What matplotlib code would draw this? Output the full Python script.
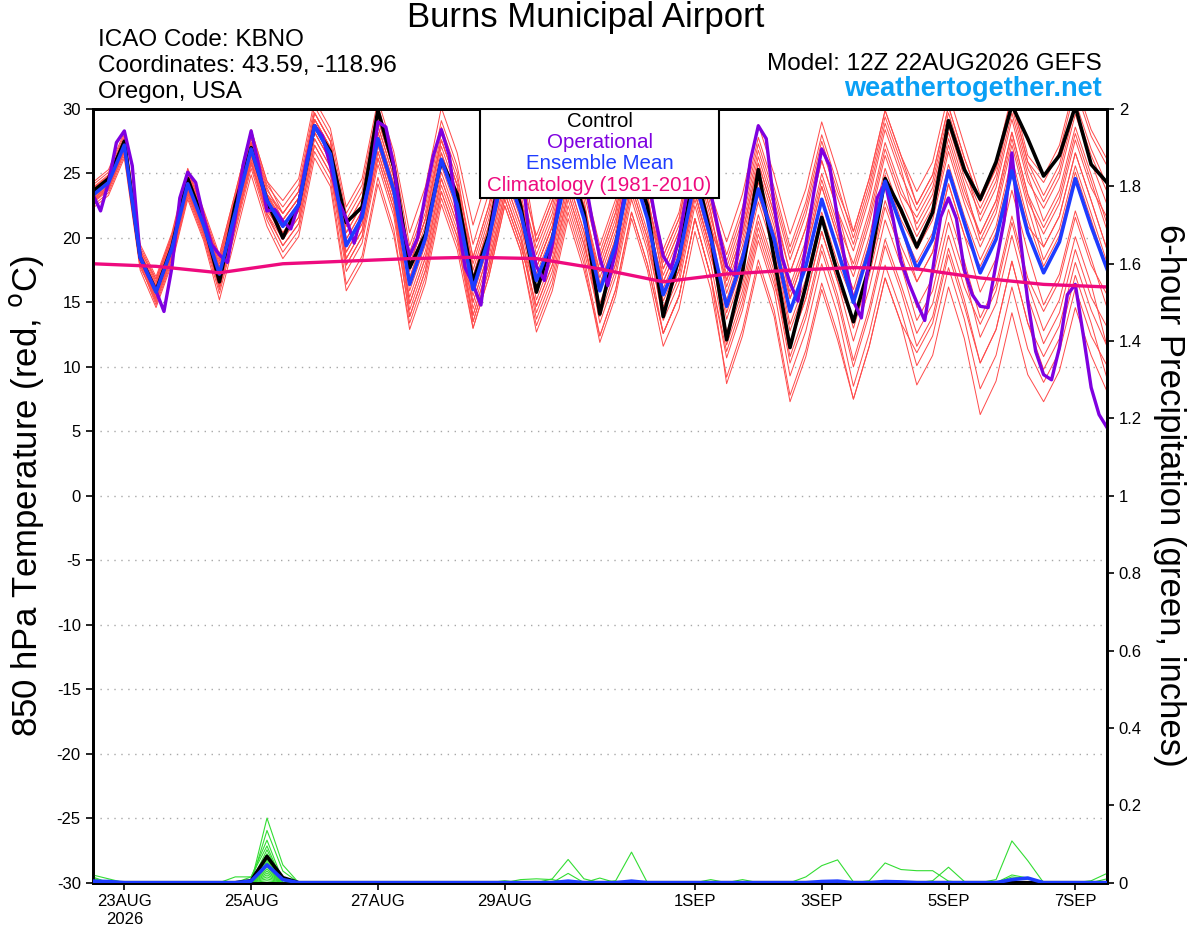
import matplotlib
matplotlib.use('Agg')
import matplotlib.pyplot as plt
from matplotlib.patches import Rectangle
import numpy as np

plt.rcParams['font.family'] = ['Liberation Sans', 'DejaVu Sans']
plt.rcParams['axes.unicode_minus'] = False

# 6-hourly steps from 22AUG2026 12Z (index 0) to 7SEP 12Z (index 64)
tick_steps = [2, 10, 18, 26, 38, 46, 54, 62]
tick_labels = ['23AUG\n2026', '25AUG', '27AUG', '29AUG', '1SEP', '3SEP', '5SEP', '7SEP']

# 850 hPa temperature, deg C
control = [23.6, 24.6, 27.5, 18.5, 15.9, 19.3, 24.6, 21.3, 16.6, 22.6, 27.0, 22.9, 20.0, 22.6, 28.7, 26.7,
           21.2, 22.4, 29.9, 25.5, 17.7, 20.3, 26.0, 23.4, 16.6, 20.3, 27.0, 22.5, 15.8, 19.9, 26.0, 22.0,
           14.1, 19.4, 26.0, 22.5, 13.9, 18.5, 25.5, 20.2, 12.1, 17.3, 25.3, 18.4, 11.5, 16.3, 21.6, 17.3,
           13.5, 17.8, 24.6, 22.2, 19.3, 22.0, 29.1, 25.3, 23.0, 25.9, 30.3, 27.7, 24.8, 26.4, 30.2, 25.7,
           24.3]

ens_mean = [23.3, 24.3, 27.2, 18.5, 15.8, 19.2, 24.2, 21.0, 17.2, 22.0, 26.9, 22.9, 20.9, 22.6, 28.7, 26.5,
            19.4, 21.6, 27.7, 23.7, 16.4, 20.0, 26.1, 22.6, 16.0, 20.0, 25.5, 22.0, 16.7, 19.9, 25.5, 21.5,
            15.9, 19.5, 25.5, 21.5, 15.6, 18.5, 24.5, 20.0, 14.7, 18.4, 23.8, 19.9, 14.3, 17.8, 23.0, 19.1,
            15.0, 19.1, 24.4, 20.9, 17.6, 19.9, 25.2, 21.2, 17.3, 19.9, 25.2, 20.4, 17.3, 19.7, 24.6, 20.9,
            17.6]

# operational run, 3-hourly
operational = [23.4, 22.1, 24.3, 27.4, 28.3, 25.6, 18.5, 17.1, 15.9, 14.3, 17.7, 23.1, 25.1, 24.3, 21.6, 19.5,
               18.7, 18.1, 21.6, 25.7, 28.3, 25.5, 22.1, 22.2, 21.3, 20.7, 22.6, 26.0, 28.7, 27.9, 25.6, 22.9,
               21.5, 19.6, 22.0, 24.4, 29.0, 28.6, 25.6, 21.2, 18.6, 20.0, 23.4, 26.4, 28.4, 26.4, 21.6, 17.7,
               16.4, 14.8, 19.8, 23.3, 26.0, 27.5, 26.5, 20.5, 17.8, 16.7, 19.5, 23.5, 26.0, 26.5, 25.0, 21.5,
               18.5, 16.3, 19.0, 23.0, 26.0, 26.5, 25.0, 21.5, 18.6, 17.6, 20.0, 23.5, 26.0, 25.5, 23.5, 20.5,
               17.8, 17.1, 21.5, 26.0, 28.7, 27.7, 22.5, 18.5, 16.5, 15.1, 19.5, 23.5, 26.9, 25.6, 21.5, 18.0,
               15.1, 13.8, 18.5, 23.1, 24.3, 21.5, 18.2, 16.5, 15.0, 13.6, 17.5, 21.6, 23.1, 21.5, 17.5, 15.6,
               14.7, 14.6, 18.0, 21.3, 26.6, 20.3, 15.1, 11.2, 9.4, 9.0, 11.5, 15.6, 16.4, 12.5, 8.4, 6.3,
               5.3]

# climatology, daily at 12Z
climatology = [18.0, 17.8, 17.3, 18.0, 18.2, 18.4, 18.5, 18.4, 17.6, 16.6, 17.2, 17.5, 17.7, 17.6, 16.9, 16.4, 16.2]

members = [
    [23.8, 24.8, 27.7, 19.0, 16.8, 20.2, 25.2, 22.0, 18.4, 23.2, 28.1, 24.1, 22.4, 24.1, 30.2, 28.0,
     21.9, 24.1, 30.2, 26.2, 19.4, 23.0, 29.1, 25.6, 19.5, 23.5, 29.0, 25.5, 19.7, 22.9, 28.5, 24.5,
     18.4, 22.0, 28.0, 24.0, 18.6, 21.5, 27.5, 23.0, 18.7, 22.4, 27.8, 23.9, 19.3, 22.8, 28.0, 24.1,
     20.0, 24.1, 29.4, 25.9, 22.6, 24.9, 30.2, 26.2, 22.8, 25.4, 30.7, 25.9, 23.3, 25.7, 30.6, 26.9, 24.1],
    [22.8, 23.8, 26.7, 18.0, 14.8, 18.2, 23.2, 20.0, 15.7, 20.5, 25.4, 21.4, 18.9, 20.6, 26.7, 24.5,
     16.4, 18.6, 24.7, 20.7, 12.9, 16.5, 22.6, 19.1, 13.0, 17.0, 22.5, 19.0, 13.2, 16.4, 22.0, 18.0,
     11.9, 15.5, 21.5, 17.5, 11.6, 14.5, 20.5, 16.0, 9.2, 12.9, 18.3, 14.4, 7.8, 11.3, 16.5, 12.6,
     7.5, 11.6, 16.9, 13.4, 8.6, 10.9, 16.2, 12.2, 6.3, 8.9, 14.2, 9.4, 7.3, 9.7, 14.6, 10.9, 8.1],
    [23.6, 24.6, 27.5, 18.8, 16.3, 19.7, 24.7, 21.5, 18.0, 22.8, 27.7, 23.7, 21.9, 23.6, 29.7, 27.5,
     20.9, 23.1, 29.2, 25.2, 18.4, 22.0, 28.1, 24.6, 18.5, 22.5, 28.0, 24.5, 18.7, 21.9, 27.5, 23.5,
     18.4, 22.0, 28.0, 24.0, 19.1, 22.0, 28.0, 23.5, 19.7, 23.4, 28.8, 24.9, 20.3, 23.8, 29.0, 25.1,
     20.5, 24.6, 29.9, 26.4, 22.6, 24.9, 30.2, 26.2, 22.8, 25.4, 30.7, 25.9, 24.3, 26.7, 31.6, 27.9, 25.6],
    [23.0, 24.0, 26.9, 18.2, 15.3, 18.7, 23.7, 20.5, 16.2, 21.0, 25.9, 21.9, 19.4, 21.1, 27.2, 25.0,
     17.4, 19.6, 25.7, 21.7, 13.9, 17.5, 23.6, 20.1, 13.0, 17.0, 22.5, 19.0, 12.7, 15.9, 21.5, 17.5,
     12.4, 16.0, 22.0, 18.0, 12.6, 15.5, 21.5, 17.0, 10.7, 14.4, 19.8, 15.9, 9.3, 12.8, 18.0, 14.1,
     8.5, 12.6, 17.9, 14.4, 10.1, 12.4, 17.7, 13.7, 8.3, 10.9, 16.2, 11.4, 8.8, 11.2, 16.1, 12.4, 10.1],
    [24.1, 25.1, 28.0, 19.3, 16.8, 20.2, 25.2, 22.0, 17.7, 22.5, 27.4, 23.4, 21.4, 23.1, 29.2, 27.0,
     20.4, 22.6, 28.7, 24.7, 17.9, 21.5, 27.6, 24.1, 17.0, 21.0, 26.5, 23.0, 17.2, 20.4, 26.0, 22.0,
     16.9, 20.5, 26.5, 22.5, 17.1, 20.0, 26.0, 21.5, 17.2, 20.9, 26.3, 22.4, 17.3, 20.8, 26.0, 22.1,
     19.0, 23.1, 28.4, 24.9, 22.1, 24.4, 29.7, 25.7, 21.3, 23.9, 29.2, 24.4, 22.3, 24.7, 29.6, 25.9, 22.6],
    [22.5, 23.5, 26.4, 17.7, 15.3, 18.7, 23.7, 20.5, 16.7, 21.5, 26.4, 22.4, 19.9, 21.6, 27.7, 25.5,
     17.9, 20.1, 26.2, 22.2, 15.4, 19.0, 25.1, 21.6, 15.5, 19.5, 25.0, 21.5, 15.7, 18.9, 24.5, 20.5,
     14.4, 18.0, 24.0, 20.0, 13.6, 16.5, 22.5, 18.0, 11.7, 15.4, 20.8, 16.9, 10.3, 13.8, 19.0, 15.1,
     10.0, 14.1, 19.4, 15.9, 11.6, 13.9, 19.2, 15.2, 10.3, 12.9, 18.2, 13.4, 10.8, 13.2, 18.1, 14.4, 11.6],
    [23.5, 24.5, 27.4, 18.7, 16.1, 19.5, 24.5, 21.3, 18.7, 23.5, 28.4, 24.4, 21.9, 23.6, 29.7, 27.5,
     19.9, 22.1, 28.2, 24.2, 17.4, 21.0, 27.1, 23.6, 18.0, 22.0, 27.5, 24.0, 19.2, 22.4, 28.0, 24.0,
     18.9, 22.5, 28.5, 24.5, 17.6, 20.5, 26.5, 22.0, 16.2, 19.9, 25.3, 21.4, 16.3, 19.8, 25.0, 21.1,
     18.0, 22.1, 27.4, 23.9, 21.1, 23.4, 28.7, 24.7, 21.8, 24.4, 29.7, 24.9, 21.3, 23.7, 28.6, 24.9, 21.1],
    [23.1, 24.1, 27.0, 18.3, 15.5, 18.9, 23.9, 20.7, 16.4, 21.2, 26.1, 22.1, 20.4, 22.1, 28.2, 26.0,
     18.4, 20.6, 26.7, 22.7, 14.4, 18.0, 24.1, 20.6, 13.5, 17.5, 23.0, 19.5, 14.7, 17.9, 23.5, 19.5,
     14.9, 18.5, 24.5, 20.5, 14.6, 17.5, 23.5, 19.0, 12.7, 16.4, 21.8, 17.9, 11.8, 15.3, 20.5, 16.6,
     12.0, 16.1, 21.4, 17.9, 13.6, 15.9, 21.2, 17.2, 12.3, 14.9, 20.2, 15.4, 11.8, 14.2, 19.1, 15.4, 13.1],
    [23.9, 24.9, 27.8, 19.1, 16.6, 20.0, 25.0, 21.8, 18.2, 23.0, 27.9, 23.9, 21.4, 23.1, 29.2, 27.0,
     20.9, 23.1, 29.2, 25.2, 18.9, 22.5, 28.6, 25.1, 17.5, 21.5, 27.0, 23.5, 17.7, 20.9, 26.5, 22.5,
     16.4, 20.0, 26.0, 22.0, 16.1, 19.0, 25.0, 20.5, 17.7, 21.4, 26.8, 22.9, 18.3, 21.8, 27.0, 23.1,
     19.5, 23.6, 28.9, 25.4, 20.6, 22.9, 28.2, 24.2, 19.8, 22.4, 27.7, 22.9, 20.3, 22.7, 27.6, 23.9, 21.6],
    [22.7, 23.7, 26.6, 17.9, 15.0, 18.4, 23.4, 20.2, 16.0, 20.8, 25.7, 21.7, 19.4, 21.1, 27.2, 25.0,
     18.9, 21.1, 27.2, 23.2, 16.9, 20.5, 26.6, 23.1, 17.0, 21.0, 26.5, 23.0, 18.2, 21.4, 27.0, 23.0,
     16.4, 20.0, 26.0, 22.0, 15.1, 18.0, 24.0, 19.5, 13.7, 17.4, 22.8, 18.9, 12.8, 16.3, 21.5, 17.6,
     13.0, 17.1, 22.4, 18.9, 14.6, 16.9, 22.2, 18.2, 13.8, 16.4, 21.7, 16.9, 14.3, 16.7, 21.6, 17.9, 15.6],
    [23.7, 24.7, 27.6, 18.9, 16.0, 19.4, 24.4, 21.2, 17.2, 22.0, 26.9, 22.9, 20.4, 22.1, 28.2, 26.0,
     19.4, 21.6, 27.7, 23.7, 15.9, 19.5, 25.6, 22.1, 14.5, 18.5, 24.0, 20.5, 14.2, 17.4, 23.0, 19.0,
     13.9, 17.5, 23.5, 19.5, 14.1, 17.0, 23.0, 18.5, 14.7, 18.4, 23.8, 19.9, 15.3, 18.8, 24.0, 20.1,
     17.0, 21.1, 26.4, 22.9, 20.1, 22.4, 27.7, 23.7, 20.3, 22.9, 28.2, 23.4, 19.3, 21.7, 26.6, 22.9, 19.1],
    [22.9, 23.9, 26.8, 18.1, 15.6, 19.0, 24.0, 20.8, 17.5, 22.3, 27.2, 23.2, 21.4, 23.1, 29.2, 27.0,
     20.4, 22.6, 28.7, 24.7, 16.4, 20.0, 26.1, 22.6, 15.0, 19.0, 24.5, 21.0, 15.2, 18.4, 24.0, 20.0,
     13.4, 17.0, 23.0, 19.0, 12.6, 15.5, 21.5, 17.0, 11.2, 14.9, 20.3, 16.4, 11.8, 15.3, 20.5, 16.6,
     13.5, 17.6, 22.9, 19.4, 16.6, 18.9, 24.2, 20.2, 15.8, 18.4, 23.7, 18.9, 14.8, 17.2, 22.1, 18.4, 14.6],
    [24.3, 25.3, 28.2, 19.5, 17.0, 20.4, 25.4, 22.2, 18.7, 23.5, 28.4, 24.4, 22.9, 24.6, 30.7, 28.5,
     22.4, 24.6, 30.7, 26.7, 20.4, 24.0, 30.1, 26.6, 21.0, 25.0, 30.5, 27.0, 19.7, 22.9, 28.5, 24.5,
     19.4, 23.0, 29.0, 25.0, 18.6, 21.5, 27.5, 23.0, 16.7, 20.4, 25.8, 21.9, 15.3, 18.8, 24.0, 20.1,
     15.5, 19.6, 24.9, 21.4, 19.1, 21.4, 26.7, 22.7, 19.3, 21.9, 27.2, 22.4, 18.3, 20.7, 25.6, 21.9, 18.1],
    [22.3, 23.3, 26.2, 17.5, 14.6, 18.0, 23.0, 19.8, 15.2, 20.0, 24.9, 20.9, 18.4, 20.1, 26.2, 24.0,
     15.9, 18.1, 24.2, 20.2, 13.4, 17.0, 23.1, 19.6, 14.0, 18.0, 23.5, 20.0, 13.7, 16.9, 22.5, 18.5,
     12.4, 16.0, 22.0, 18.0, 12.6, 15.5, 21.5, 17.0, 8.7, 12.4, 17.8, 13.9, 7.3, 10.8, 16.0, 12.1,
     7.5, 11.6, 16.9, 13.4, 11.1, 13.4, 18.7, 14.7, 10.3, 12.9, 18.2, 13.4, 9.8, 12.2, 17.1, 13.4, 9.1],
    [23.3, 24.3, 27.2, 18.5, 16.3, 19.7, 24.7, 21.5, 17.7, 22.5, 27.4, 23.4, 21.9, 23.6, 29.7, 27.5,
     21.4, 23.6, 29.7, 25.7, 17.9, 21.5, 27.6, 24.1, 16.5, 20.5, 26.0, 22.5, 17.7, 20.9, 26.5, 22.5,
     17.4, 21.0, 27.0, 23.0, 18.1, 21.0, 27.0, 22.5, 18.2, 21.9, 27.3, 23.4, 18.8, 22.3, 27.5, 23.6,
     20.5, 24.6, 29.9, 26.4, 23.6, 25.9, 31.2, 27.2, 23.3, 25.9, 31.2, 26.4, 24.8, 27.2, 32.1, 28.4, 26.1],
    [23.3, 24.3, 27.2, 18.5, 15.3, 18.7, 23.7, 20.5, 16.7, 21.5, 26.4, 22.4, 20.4, 22.1, 28.2, 26.0,
     18.4, 20.6, 26.7, 22.7, 14.9, 18.5, 24.6, 21.1, 14.0, 18.0, 23.5, 20.0, 15.7, 18.9, 24.5, 20.5,
     15.9, 19.5, 25.5, 21.5, 16.6, 19.5, 25.5, 21.0, 14.2, 17.9, 23.3, 19.4, 13.3, 16.8, 22.0, 18.1,
     15.0, 19.1, 24.4, 20.9, 18.1, 20.4, 25.7, 21.7, 18.3, 20.9, 26.2, 21.4, 17.8, 20.2, 25.1, 21.4, 17.6],
    [23.8, 24.8, 27.7, 19.0, 15.8, 19.2, 24.2, 21.0, 16.7, 21.5, 26.4, 22.4, 21.4, 23.1, 29.2, 27.0,
     19.9, 22.1, 28.2, 24.2, 17.9, 21.5, 27.6, 24.1, 18.5, 22.5, 28.0, 24.5, 20.2, 23.4, 29.0, 25.0,
     17.9, 21.5, 27.5, 23.5, 16.6, 19.5, 25.5, 21.0, 16.7, 20.4, 25.8, 21.9, 17.3, 20.8, 26.0, 22.1,
     17.5, 21.6, 26.9, 23.4, 21.6, 23.9, 29.2, 25.2, 22.3, 24.9, 30.2, 25.4, 22.8, 25.2, 30.1, 26.4, 23.6],
    [22.8, 23.8, 26.7, 18.0, 15.8, 19.2, 24.2, 21.0, 17.7, 22.5, 27.4, 23.4, 20.9, 22.6, 28.7, 26.5,
     18.9, 21.1, 27.2, 23.2, 14.9, 18.5, 24.6, 21.1, 13.5, 17.5, 23.0, 19.5, 14.7, 17.9, 23.5, 19.5,
     14.4, 18.0, 24.0, 20.0, 14.6, 17.5, 23.5, 19.0, 12.2, 15.9, 21.3, 17.4, 10.8, 14.3, 19.5, 15.6,
     10.5, 14.6, 19.9, 16.4, 12.6, 14.9, 20.2, 16.2, 13.3, 15.9, 21.2, 16.4, 12.8, 15.2, 20.1, 16.4, 11.6],
    [23.6, 24.6, 27.5, 18.8, 16.5, 19.9, 24.9, 21.7, 17.4, 22.2, 27.1, 23.1, 20.9, 22.6, 28.7, 26.5,
     17.9, 20.1, 26.2, 22.2, 13.9, 17.5, 23.6, 20.1, 15.0, 19.0, 24.5, 21.0, 16.7, 19.9, 25.5, 21.5,
     17.4, 21.0, 27.0, 23.0, 17.6, 20.5, 26.5, 22.0, 15.7, 19.4, 24.8, 20.9, 14.3, 17.8, 23.0, 19.1,
     16.0, 20.1, 25.4, 21.9, 19.6, 21.9, 27.2, 23.2, 20.3, 22.9, 28.2, 23.4, 20.8, 23.2, 28.1, 24.4, 20.6],
    [23.0, 24.0, 26.9, 18.2, 15.1, 18.5, 23.5, 20.3, 16.2, 21.0, 25.9, 21.9, 19.9, 21.6, 27.7, 25.5,
     19.4, 21.6, 27.7, 23.7, 16.9, 20.5, 26.6, 23.1, 16.0, 20.0, 25.5, 22.0, 17.7, 20.9, 26.5, 22.5,
     15.9, 19.5, 25.5, 21.5, 14.6, 17.5, 23.5, 19.0, 15.2, 18.9, 24.3, 20.4, 15.8, 19.3, 24.5, 20.6,
     15.0, 19.1, 24.4, 20.9, 16.6, 18.9, 24.2, 20.2, 17.8, 20.4, 25.7, 20.9, 19.3, 21.7, 26.6, 22.9, 19.1],
]

# 6-hour precipitation (inches), only non-zero steps listed
pcp_members = [
    {0: 0.02, 1: 0.01, 11: 0.167, 12: 0.046},
    {11: 0.135, 12: 0.03},
    {0: 0.015, 10: 0.015, 11: 0.11, 12: 0.005},
    {9: 0.015, 10: 0.015, 11: 0.095},
    {11: 0.085, 29: 0.01, 30: 0.06, 31: 0.01},
    {11: 0.075, 33: 0.005, 34: 0.079},
    {0: 0.012, 11: 0.07, 30: 0.024},
    {11: 0.065, 45: 0.015, 46: 0.044, 47: 0.059, 48: 0.002},
    {11: 0.06, 49: 0.005, 50: 0.051, 51: 0.034, 52: 0.031, 53: 0.031, 54: 0.004},
    {11: 0.055, 57: 0.008, 58: 0.108, 59: 0.057},
    {11: 0.05, 53: 0.005, 54: 0.04, 55: 0.003},
    {11: 0.045, 63: 0.005, 64: 0.024},
    {11: 0.04, 27: 0.008, 28: 0.01, 29: 0.008},
    {11: 0.035, 32: 0.012, 39: 0.008},
    {11: 0.03, 41: 0.008, 58: 0.02, 59: 0.012},
    {11: 0.025, 26: 0.005},
    {11: 0.02, 58: 0.015, 59: 0.01},
    {0: 0.01, 11: 0.015},
    {1: 0.006, 11: 0.01},
    {11: 0.005, 64: 0.01},
]
pcp_control = {10: 0.005, 11: 0.068, 12: 0.013}
pcp_mean = {0: 0.004, 1: 0.003, 10: 0.004, 11: 0.046, 12: 0.008, 30: 0.004, 34: 0.004,
            46: 0.003, 47: 0.004, 50: 0.003, 51: 0.002, 58: 0.008, 59: 0.012}

n = len(control)
t = np.arange(n)
t_op = np.arange(len(operational)) / 2.0
t_clim = np.arange(len(climatology)) * 4


def pcp_series(d):
    s = np.zeros(n)
    for k, v in d.items():
        s[k] = v
    return s


fig = plt.figure(figsize=(12, 9.27), dpi=100)
ax = fig.add_axes([0.0772, 0.0478, 0.8453, 0.8346])
ax2 = ax.twinx()

# temperature
for m in members:
    ax.plot(t, m, color='#ff4a4a', lw=0.7, zorder=2)
ax.plot(t, control, color='black', lw=2.6, zorder=3)
ax.plot(t_op, operational, color='#7f00e0', lw=2.4, zorder=4)
ax.plot(t, ens_mean, color='#1e3cff', lw=2.6, zorder=5)
ax.plot(t_clim, climatology, color='#ee0a7e', lw=2.4, zorder=6)

ax.set_xlim(0, n - 1)
ax.set_ylim(-30, 30)
ax.set_yticks(np.arange(-30, 31, 5))
ax.set_xticks(tick_steps)
ax.set_xticklabels(tick_labels)
ax.yaxis.grid(True, linestyle=(0, (1, 4)), color='#a8a8a8', lw=1.0)
ax.set_axisbelow(True)
ax.tick_params(axis='both', labelsize=12, width=1.2, length=5, direction='out')

# precipitation
for d in pcp_members:
    ax2.plot(t, pcp_series(d), color='#33dd33', lw=0.8, zorder=2)
ax2.plot(t, pcp_series(pcp_control), color='black', lw=2.6, zorder=3)
ax2.plot(t, pcp_series(pcp_mean), color='#1e3cff', lw=2.6, zorder=4)
ax2.set_ylim(0, 2)
ax2.set_yticks(np.arange(0, 2.01, 0.2))
ax2.set_yticklabels(['0', '0.2', '0.4', '0.6', '0.8', '1', '1.2', '1.4', '1.6', '1.8', '2'])
ax2.tick_params(axis='y', labelsize=12, width=1.2, length=5, direction='out')

for a in (ax, ax2):
    for s in a.spines.values():
        s.set_linewidth(2)

ax.set_ylabel('850 hPa Temperature (red, $^{\\mathrm{o}}$C)', fontsize=25)
ax.yaxis.set_label_coords(-0.046, 0.5)
ax2.set_ylabel('6-hour Precipitation (green, inches)', fontsize=25, rotation=-90)
ax2.yaxis.set_label_coords(1.078, 0.5)

# legend box
ax2.add_patch(Rectangle((0.382, 0.885), 0.2355, 0.115, transform=ax2.transAxes,
                        facecolor='white', edgecolor='black', lw=1.5, zorder=10))
leg_items = [('Control', 'black'), ('Operational', '#7f00e0'),
             ('Ensemble Mean', '#1e3cff'), ('Climatology (1981-2010)', '#ee0a7e')]
for k, (txt, c) in enumerate(leg_items):
    ax2.text(0.4997, 0.9845 - k * 0.0276, txt, color=c, fontsize=14.8, ha='center', va='center',
             transform=ax2.transAxes, zorder=11)

# header texts
fig.text(0.488, 1 - 18 / 927, 'Burns Municipal Airport', fontsize=25, ha='center', va='center')
fig.text(98 / 1200, 1 - 40 / 927, 'ICAO Code: KBNO', fontsize=17.5, ha='left', va='center')
fig.text(98 / 1200, 1 - 66 / 927, 'Coordinates: 43.59, -118.96', fontsize=17.5, ha='left', va='center')
fig.text(98 / 1200, 1 - 92 / 927, 'Oregon, USA', fontsize=17.5, ha='left', va='center')
fig.text(1102 / 1200, 1 - 64 / 927, 'Model: 12Z 22AUG2026 GEFS', fontsize=17.5, ha='right', va='center')
fig.text(1102 / 1200, 1 - 89 / 927, 'weathertogether.net', fontsize=19.5, fontweight='bold',
         color='#0aa0f5', ha='right', va='center')

fig.savefig('out.png', dpi=100)
